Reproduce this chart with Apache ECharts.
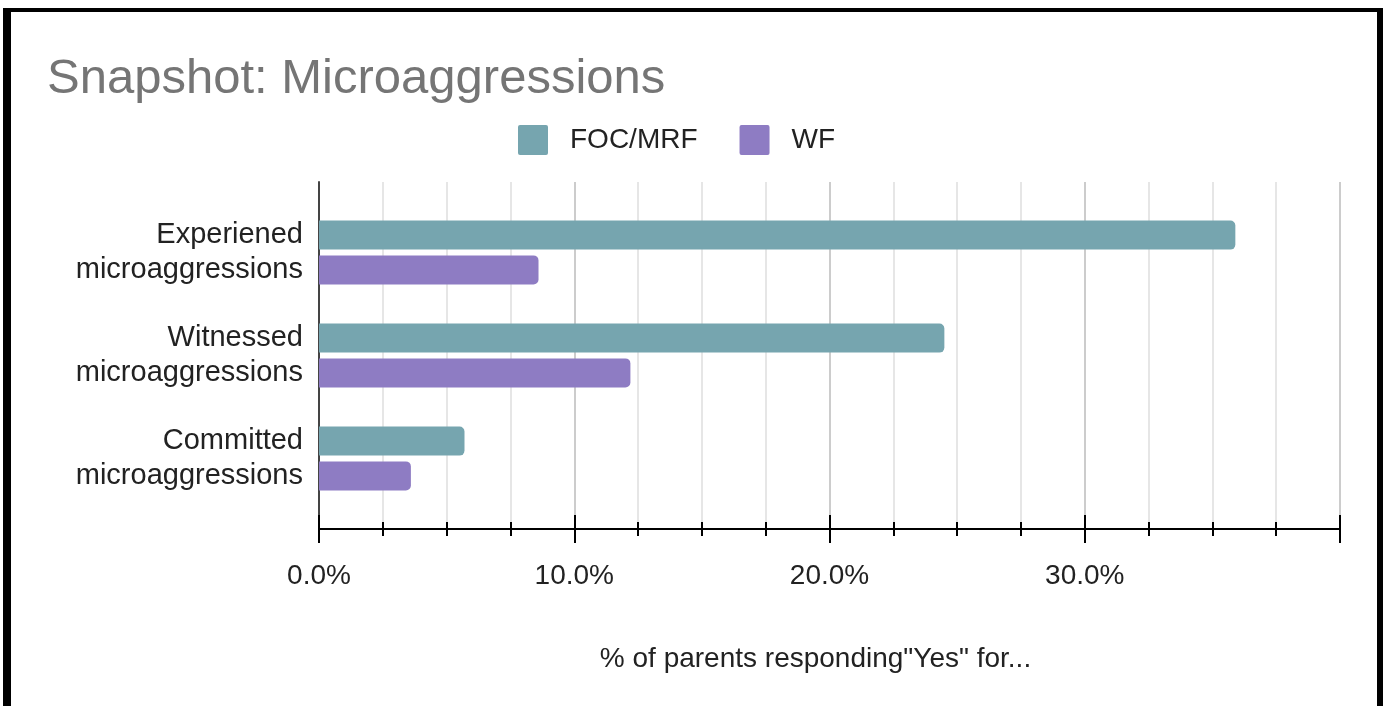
<!DOCTYPE html>
<html>
<head>
<meta charset="utf-8">
<script src="https://cdn.jsdelivr.net/npm/echarts@6/dist/echarts.min.js"></script>
<style>
  html, body { margin: 0; padding: 0; background: #fff; }
  #chart { position: absolute; left: 0; top: 0; width: 1383px; height: 706px; }
  #frame { position: absolute; left: 3px; top: 8px; width: 1380px; height: 698px; box-sizing: border-box;
           border-left: 8px solid #000; border-top: 4px solid #000; border-right: 6px solid #000; pointer-events: none; }
</style>
</head>
<body>
<div id="chart"></div>
<div id="frame"></div>
<script>
const categories = ['Experiened\nmicroaggressions', 'Witnessed\nmicroaggressions', 'Committed\nmicroaggressions'];
const seriesNames = ['FOC/MRF', 'WF'];
const focValues = [35.9, 24.5, 5.7];
const wfValues = [8.6, 12.2, 3.6];
const tickValues = [0, 10, 20, 30, 40];

const FONT = "'Liberation Sans', Arial, sans-serif";
const chart = echarts.init(document.getElementById('chart'), null, { renderer: 'canvas' });

const xMin = tickValues[0], xMax = tickValues[tickValues.length - 1], xStep = tickValues[1] - tickValues[0];

chart.setOption({
  animation: false,
  backgroundColor: '#ffffff',
  title: {
    text: 'Snapshot: Microaggressions',
    left: 42, top: 50,
    textStyle: { fontFamily: FONT, fontSize: 49, fontWeight: 'normal', color: '#757575' }
  },
  legend: {
    left: 513, top: 120,
    itemWidth: 30, itemHeight: 30, itemGap: 42,
    icon: 'path://M2,0 L28,0 Q30,0 30,2 L30,28 Q30,30 28,30 L2,30 Q0,30 0,28 L0,2 Q0,0 2,0 Z',
    textStyle: { fontFamily: FONT, fontSize: 28, color: '#222', padding: [0, 0, 0, 17] },
    data: seriesNames
  },
  grid: [
    { left: 319, right: 43, top: 182, bottom: 177 },
    { left: 319, right: 43, top: 201, bottom: 196 }
  ],
  xAxis: [
    {
      gridIndex: 0, type: 'value', min: xMin, max: xMax, interval: xStep,
      axisLine: { show: true, lineStyle: { color: '#000', width: 2 } },
      axisTick: { show: true, length: 14, lineStyle: { color: '#000', width: 2 } },
      minorTick: { show: true, splitNumber: 4, length: 7, lineStyle: { color: '#000', width: 2 } },
      splitLine: { show: true, lineStyle: { color: '#cccccc', width: 2 } },
      minorSplitLine: { show: true, lineStyle: { color: '#e6e6e6', width: 2 } },
      axisLabel: {
        margin: 33, fontFamily: FONT, fontSize: 28, color: '#222',
        formatter: v => (v === xMax ? '' : v.toFixed(1) + '%')
      },
      name: '% of parents responding"Yes" for...',
      nameLocation: 'middle', nameGap: 116,
      nameTextStyle: { fontFamily: FONT, fontSize: 28, color: '#222', padding: [0, 28, 0, 0] }
    },
    {
      gridIndex: 0, type: 'value', min: xMin, max: xMax, interval: xStep, position: 'bottom',
      axisLine: { show: true, lineStyle: { color: '#000', width: 2 } },
      axisTick: { show: true, inside: true, length: 14, lineStyle: { color: '#000', width: 2 } },
      minorTick: { show: true, splitNumber: 4, length: 7, lineStyle: { color: '#000', width: 2 } },
      splitLine: { show: false },
      axisLabel: { show: false }
    },
    {
      gridIndex: 1, type: 'value', min: xMin, max: xMax, interval: xStep, show: false
    }
  ],
  yAxis: [
    {
      gridIndex: 0, type: 'category', data: categories, inverse: true,
      axisLine: { show: true, lineStyle: { color: '#444', width: 2 } },
      axisTick: { show: false }, axisLabel: { show: false }, splitLine: { show: false }
    },
    {
      gridIndex: 1, type: 'category', data: categories, inverse: true,
      axisLine: { show: false }, axisTick: { show: false },
      axisLabel: {
        margin: 16, fontFamily: FONT, fontSize: 29, color: '#222', lineHeight: 35,
        align: 'right', padding: [4, 0, 0, 0]
      }
    }
  ],
  series: [
    {
      name: seriesNames[0], type: 'bar', xAxisIndex: 2, yAxisIndex: 1,
      data: focValues, barWidth: 29, barGap: '20%',
      itemStyle: { color: '#76a5af', borderRadius: [0, 5, 5, 0] }
    },
    {
      name: seriesNames[1], type: 'bar', xAxisIndex: 2, yAxisIndex: 1,
      data: wfValues, barWidth: 29, barGap: '20%',
      itemStyle: { color: '#8e7cc3', borderRadius: [0, 5, 5, 0] }
    }
  ]
});
</script>
</body>
</html>
